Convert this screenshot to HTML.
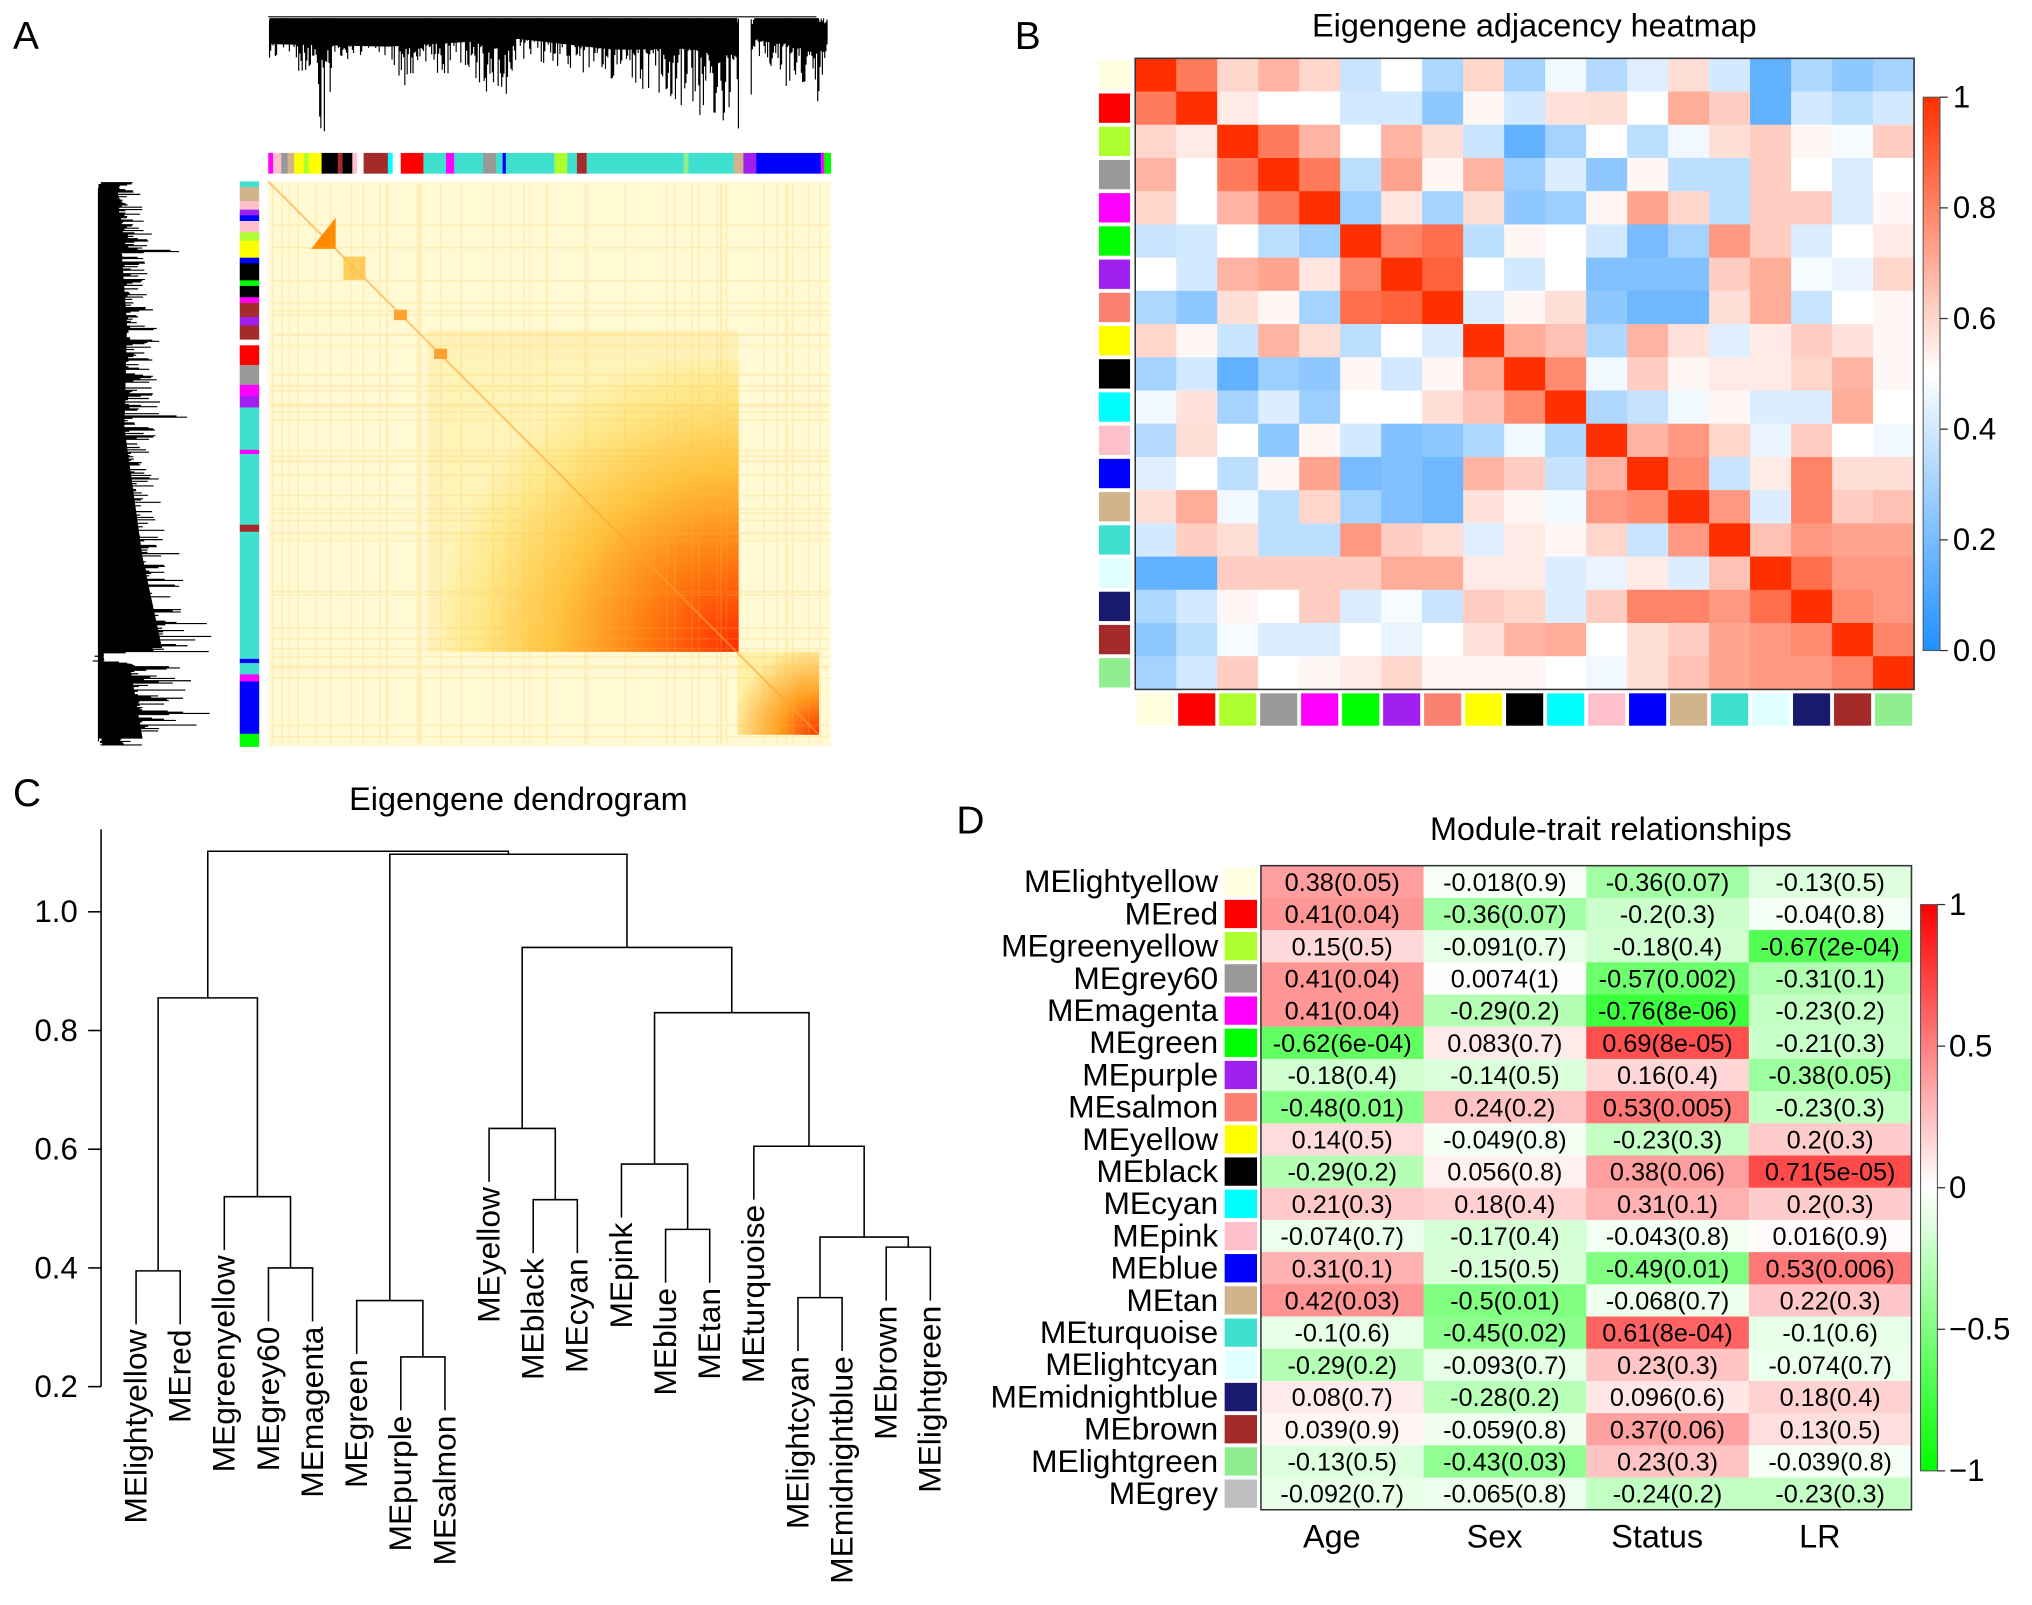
<!DOCTYPE html>
<html><head><meta charset="utf-8">
<style>
html,body{margin:0;padding:0;background:#fff;}
svg{display:block;font-family:"Liberation Sans",Arial,sans-serif;}
</style></head>
<body>
<svg id="fig" width="2032" height="1605" viewBox="0 0 1568 1238.5" xmlns="http://www.w3.org/2000/svg">
<defs>
<radialGradient id="bigBlock" cx="1" cy="1" r="1.05" fx="1" fy="1">
<stop offset="0" stop-color="#ff2a00"/><stop offset="0.3" stop-color="#ff7a10"/><stop offset="0.6" stop-color="#ffc440"/><stop offset="0.85" stop-color="#ffe88a"/><stop offset="1" stop-color="#fff4b8"/>
</radialGradient>
<radialGradient id="smallBlock" cx="1" cy="1" r="1.1" fx="1" fy="1">
<stop offset="0" stop-color="#ff3000"/><stop offset="0.45" stop-color="#ffa020"/><stop offset="1" stop-color="#fff2a8"/>
</radialGradient>
<linearGradient id="cbB" x1="0" y1="1" x2="0" y2="0">
<stop offset="0" stop-color="rgb(30,144,255)"/><stop offset="0.5" stop-color="#ffffff"/><stop offset="1" stop-color="rgb(255,48,0)"/>
</linearGradient>
<linearGradient id="cbD" x1="0" y1="1" x2="0" y2="0">
<stop offset="0" stop-color="#00ff00"/><stop offset="0.5" stop-color="#ffffff"/><stop offset="1" stop-color="#ff0000"/>
</linearGradient>
</defs>

<text x="10" y="38" font-size="30">A</text>
<text x="783" y="38" font-size="30">B</text>
<text x="10" y="622" font-size="30">C</text>
<text x="738" y="643" font-size="30">D</text>

<g id="panelA">
<rect x="207" y="140" width="434" height="436" fill="#fff9d4"/>
<rect x="330" y="255" width="240" height="248" fill="#ffe585" opacity="0.35"/>
<rect x="343" y="278" width="227" height="225" fill="url(#bigBlock)"/>
<rect x="569" y="503" width="63" height="64" fill="url(#smallBlock)"/>
<line x1="207" y1="140" x2="632" y2="567" stroke="#ffa030" stroke-width="1.5" opacity="0.6"/>
<polygon points="240,192 259,168 259,192" fill="#ff8a00"/>
<rect x="265" y="198" width="17" height="18" fill="#ffc040" opacity="0.8"/>
<rect x="304" y="239" width="10" height="8" fill="#ffa030"/>
<rect x="335" y="269" width="10" height="8" fill="#ffa030"/>
<g id="streaks"></g>
<g id="topDendro"></g>
<g id="leftDendro"></g>
<g id="topBar"></g>
<g id="leftBar"></g>
</g>

<g id="panelB">
<text x="1184" y="28" font-size="25" text-anchor="middle">Eigengene adjacency heatmap</text>
<g id="bCells"></g>
<rect x="876" y="45" width="601" height="487" fill="none" stroke="#333" stroke-width="1.2"/>
<g id="bLeft"></g><g id="bBottom"></g>
<rect x="1484" y="75" width="13" height="427" fill="url(#cbB)" stroke="#555" stroke-width="0.8"/>
<g id="bTicks"></g>
</g>

<g id="panelC">
<text x="400" y="625" font-size="25" text-anchor="middle">Eigengene dendrogram</text>
<line x1="78" y1="640" x2="78" y2="1070" stroke="#000" stroke-width="1.2"/>
<g id="cTicks"></g>
<g id="cTree"></g>
</g>

<g id="panelD">
<text x="1243" y="648" font-size="25" text-anchor="middle">Module-trait relationships</text>
<g id="dCells"></g>
<rect x="973" y="668" width="502" height="497" fill="none" stroke="#333" stroke-width="1.2"/>
<rect x="1482" y="698" width="13" height="437" fill="url(#cbD)" stroke="#555" stroke-width="0.8"/>
<g id="dTicks"></g>
</g>
</svg>

<script>
const NS = "http://www.w3.org/2000/svg";
function mk(tag, attrs, parent, txt){
  const e = document.createElementNS(NS, tag);
  for (const k in attrs) e.setAttribute(k, attrs[k]);
  if (txt !== undefined) e.textContent = txt;
  parent.appendChild(e);
  return e;
}

/* ---------- Panel B data ---------- */
const bModules = ["lightyellow","red","greenyellow","grey60","magenta","green","purple","salmon","yellow","black","cyan","pink","blue","tan","turquoise","lightcyan","midnightblue","brown","lightgreen"];
const bColors = ["#ffffe0","#ff0000","#adff2f","#999999","#ff00ff","#00ff00","#a020f0","#fa8072","#ffff00","#000000","#00ffff","#ffc0cb","#0000ff","#d2b48c","#40e0d0","#e0ffff","#191970","#a52a2a","#90ee90"];
const bAdj = [
[1,.82,.6,.68,.6,.38,.5,.32,.6,.3,.47,.33,.43,.58,.4,.15,.32,.25,.3],
[.82,1,.55,.5,.5,.4,.4,.25,.52,.4,.57,.58,.5,.7,.62,.15,.4,.35,.4],
[.6,.55,1,.82,.68,.5,.68,.58,.38,.15,.3,.5,.35,.47,.58,.62,.52,.48,.62],
[.68,.5,.82,1,.82,.35,.72,.52,.68,.28,.42,.25,.52,.35,.35,.62,.5,.42,.5],
[.6,.5,.68,.82,1,.28,.56,.3,.58,.25,.28,.52,.72,.6,.35,.62,.62,.42,.52],
[.38,.4,.5,.35,.28,1,.8,.85,.35,.52,.5,.4,.2,.3,.75,.62,.42,.5,.55],
[.5,.4,.68,.72,.56,.8,1,.88,.5,.4,.5,.22,.22,.22,.62,.7,.48,.45,.6],
[.32,.25,.58,.52,.3,.85,.88,1,.42,.52,.58,.25,.18,.18,.58,.7,.38,.5,.52],
[.6,.52,.38,.68,.58,.35,.5,.42,1,.7,.65,.32,.68,.57,.43,.55,.62,.57,.52],
[.3,.4,.15,.28,.25,.52,.4,.52,.7,1,.78,.47,.62,.52,.55,.55,.6,.68,.52],
[.47,.57,.3,.42,.28,.5,.5,.58,.65,.78,1,.32,.37,.47,.52,.42,.42,.7,.5],
[.33,.58,.5,.25,.52,.4,.22,.25,.32,.47,.32,1,.68,.75,.6,.45,.62,.5,.47],
[.43,.5,.35,.52,.72,.2,.22,.18,.68,.62,.37,.68,1,.78,.38,.55,.8,.58,.58],
[.58,.7,.47,.35,.6,.3,.22,.18,.57,.52,.47,.75,.78,1,.75,.42,.8,.62,.65],
[.4,.62,.58,.35,.35,.75,.62,.58,.43,.55,.52,.6,.38,.75,1,.65,.75,.72,.72],
[.15,.15,.62,.62,.62,.62,.7,.7,.55,.55,.42,.45,.55,.42,.65,1,.85,.75,.75],
[.32,.4,.52,.5,.62,.42,.48,.38,.62,.6,.42,.62,.8,.8,.75,.85,1,.78,.75],
[.25,.35,.48,.42,.42,.5,.45,.5,.57,.68,.7,.5,.58,.62,.72,.75,.78,1,.8],
[.3,.4,.62,.5,.52,.55,.6,.52,.52,.52,.5,.47,.58,.65,.72,.75,.75,.8,1]
];
const bTickValues = [0,0.2,0.4,0.6,0.8,1];
const bTickLabels = ["0.0","0.2","0.4","0.6","0.8","1"];

/* ---------- Panel C data ---------- */
const cLeaves = ["MElightyellow","MEred","MEgreenyellow","MEgrey60","MEmagenta","MEgreen","MEpurple","MEsalmon","MEyellow","MEblack","MEcyan","MEpink","MEblue","MEtan","MEturquoise","MElightcyan","MEmidnightblue","MEbrown","MElightgreen"];
const cMergeA = ["L0","L3","L2","M0","L6","L5","L9","L8","L12","L11","L15","L17","M10","L14","M9","M7","M5","M3"];
const cMergeB = ["L1","L4","M1","M2","L7","M4","L10","M6","L13","M8","L16","L18","M11","M12","M13","M14","M15","M16"];
const cHeights = [0.395,0.40,0.52,0.855,0.25,0.345,0.515,0.635,0.465,0.575,0.35,0.435,0.452,0.605,0.83,0.94,1.097,1.102];
const cTickValues = [0.2,0.4,0.6,0.8,1.0];
const cTickLabels = ["0.2","0.4","0.6","0.8","1.0"];

/* ---------- Panel D data ---------- */
const dModules = ["MElightyellow","MEred","MEgreenyellow","MEgrey60","MEmagenta","MEgreen","MEpurple","MEsalmon","MEyellow","MEblack","MEcyan","MEpink","MEblue","MEtan","MEturquoise","MElightcyan","MEmidnightblue","MEbrown","MElightgreen","MEgrey"];
const dModuleColors = ["#ffffe0","#ff0000","#adff2f","#999999","#ff00ff","#00ff00","#a020f0","#fa8072","#ffff00","#000000","#00ffff","#ffc0cb","#0000ff","#d2b48c","#40e0d0","#e0ffff","#191970","#a52a2a","#90ee90","#bebebe"];
const dTraits = ["Age","Sex","Status","LR"];
const dAge = [0.38,0.41,0.15,0.41,0.41,-0.62,-0.18,-0.48,0.14,-0.29,0.21,-0.074,0.31,0.42,-0.1,-0.29,0.08,0.039,-0.13,-0.092];
const dAgeP = ["0.05","0.04","0.5","0.04","0.04","6e-04","0.4","0.01","0.5","0.2","0.3","0.7","0.1","0.03","0.6","0.2","0.7","0.9","0.5","0.7"];
const dSex = [-0.018,-0.36,-0.091,0.0074,-0.29,0.083,-0.14,0.24,-0.049,0.056,0.18,-0.17,-0.15,-0.5,-0.45,-0.093,-0.28,-0.059,-0.43,-0.065];
const dSexP = ["0.9","0.07","0.7","1","0.2","0.7","0.5","0.2","0.8","0.8","0.4","0.4","0.5","0.01","0.02","0.7","0.2","0.8","0.03","0.8"];
const dStatus = [-0.36,-0.2,-0.18,-0.57,-0.76,0.69,0.16,0.53,-0.23,0.38,0.31,-0.043,-0.49,-0.068,0.61,0.23,0.096,0.37,0.23,-0.24];
const dStatusP = ["0.07","0.3","0.4","0.002","8e-06","8e-05","0.4","0.005","0.3","0.06","0.1","0.8","0.01","0.7","8e-04","0.3","0.6","0.06","0.3","0.2"];
const dLR = [-0.13,-0.04,-0.67,-0.31,-0.23,-0.21,-0.38,-0.23,0.2,0.71,0.2,0.016,0.53,0.22,-0.1,-0.074,0.18,0.13,-0.039,-0.23];
const dLRP = ["0.5","0.8","2e-04","0.1","0.2","0.3","0.05","0.3","0.3","5e-05","0.3","0.9","0.006","0.3","0.6","0.7","0.4","0.5","0.8","0.3"];
const dTickValues = [1,0.5,0,-0.5,-1];
const dTickLabels = ["1","0.5","0","\u22120.5","\u22121"];

/* ---------- Panel A color bars ---------- */
const aTopColors = ["#ff00ff","#ffc0cb","#999999","#d2b48c","#ffff00","#adff2f","#ffff00","#000000","#a52a2a","#000000","#ffc0cb","#ffffff","#a52a2a","#a52a2a","#00ffff","#ffffff","#ff0000","#40e0d0","#ff00ff","#40e0d0","#999999","#40e0d0","#0000ff","#40e0d0","#adff2f","#40e0d0","#a52a2a","#40e0d0","#90ee90","#40e0d0","#d2b48c","#a020f0","#0000ff","#ff00ff","#00ff00"];
const aTopLens = [3,5,4,4,6,3,8,10,3,6,3,4,12,3,3,5,14,14,5,18,8,4,2,30,8,6,6,60,3,28,6,8,40,2,4];
const aLeftColors = ["#40e0d0","#d2b48c","#ffc0cb","#a020f0","#0000ff","#ffc0cb","#adff2f","#ffff00","#0000ff","#000000","#00ff00","#000000","#ff00ff","#a52a2a","#a020f0","#a52a2a","#ffffff","#ff0000","#999999","#ff00ff","#a020f0","#40e0d0","#ff00ff","#40e0d0","#a52a2a","#40e0d0","#0000ff","#40e0d0","#ff00ff","#0000ff","#00ff00"];
const aLeftLens = [4,10,6,4,4,8,6,12,4,12,4,8,4,10,6,10,4,14,14,8,8,30,3,50,5,90,3,8,5,37,9];

/* ---------- Draw Panel B ---------- */
const bX0 = 876, bY0 = 45, bW = 601, bH = 487;
const bN = bModules.length;
const bCw = bW / bN, bCh = bH / bN;
function bColor(v){
  let r,g,b;
  if (v < 0.5){ const t = v/0.5; r = 30+(255-30)*t; g = 144+(255-144)*t; b = 255; }
  else { const t = (v-0.5)/0.5; r = 255; g = 255+(48-255)*t; b = 255-255*t; }
  return `rgb(${Math.round(r)},${Math.round(g)},${Math.round(b)})`;
}
const bCells = document.getElementById('bCells');
for (let i=0;i<bN;i++){
  for (let j=0;j<bN;j++){
    const c = mk('rect',{x:bX0+j*bCw,y:bY0+i*bCh,width:bCw+0.5,height:bCh+0.5,fill:bColor(bAdj[i][j])},bCells);
    
    
  }
}
const bLeft = document.getElementById('bLeft'), bBottom = document.getElementById('bBottom');
for (let i=0;i<bN;i++){
  const r1 = mk('rect',{x:848,y:bY0+i*bCh+1.5,width:24,height:bCh-3,fill:bColors[i]},bLeft);
  
  
  const r2 = mk('rect',{x:bX0+i*bCw+1.5,y:535,width:bCw-3,height:25,fill:bColors[i]},bBottom);
  
  
}
const bTicks = document.getElementById('bTicks');
function bY(v){ return 502 - v*(502-75); }
bTickValues.forEach((v,k)=>{
  const t = mk('line',{x1:1497,y1:bY(v),x2:1503,y2:bY(v),stroke:'#333','stroke-width':1},bTicks);
  
  
  const l = mk('text',{x:1507,y:bY(v)+8,'font-size':24},bTicks,bTickLabels[k]);
  
  
});

/* ---------- Draw Panel C ---------- */
function cY(h){ return 1070 - (h-0.2)*458; }
function cX(i){ return 105 + i*34.05; }
const cTicks = document.getElementById('cTicks');
cTickValues.forEach((v,k)=>{
  const t = mk('line',{x1:68,y1:cY(v),x2:78,y2:cY(v),stroke:'#000','stroke-width':1.2},cTicks);
  
  
  const l = mk('text',{x:60,y:cY(v)+8,'font-size':24,'text-anchor':'end'},cTicks,cTickLabels[k]);
  
  
});
const cTree = document.getElementById('cTree');
const nodeX = [], nodeH = [];
const leafParentH = new Array(cLeaves.length).fill(0);
cMergeA.forEach((a,k)=>{
  [a,cMergeB[k]].forEach(r=>{ if (r[0]==='L') leafParentH[+r.slice(1)] = cHeights[k]; });
});
const hang = 0.09;
function ref(r){
  const idx = +r.slice(1);
  if (r[0]==='L') return {x:cX(idx), y:cY(leafParentH[idx]-hang)};
  return {x:nodeX[idx], y:cY(nodeH[idx])};
}
cMergeA.forEach((a,k)=>{
  const A = ref(a), B = ref(cMergeB[k]);
  const y = cY(cHeights[k]);
  const p = mk('path',{d:`M${A.x},${A.y}V${y}H${B.x}V${B.y}`,fill:'none',stroke:'#000','stroke-width':1.2},cTree);
  
  
  nodeX[k] = (A.x+B.x)/2; nodeH[k] = cHeights[k];
});
cLeaves.forEach((n,i)=>{
  const x = cX(i), y = cY(leafParentH[i]-hang)+4;
  const t = mk('text',{x:x+8,y:y,'font-size':24.5,'text-anchor':'end',transform:`rotate(-90 ${x+8} ${y})`},cTree,n);
  
  
});

/* ---------- Draw Panel D ---------- */
const dX0 = 973, dY0 = 668, dW = 502, dH = 497;
const dRowH = dH / dModules.length, dColW = dW / dTraits.length;
const dVals = [dAge,dSex,dStatus,dLR], dPs = [dAgeP,dSexP,dStatusP,dLRP];
function dColor(v){
  let r,g,b;
  if (v >= 0){ r = 255; g = 255*(1-v); b = 255*(1-v); }
  else { const t = -v; r = 255*(1-t); g = 255; b = 255*(1-t); }
  return `rgb(${Math.round(r)},${Math.round(g)},${Math.round(b)})`;
}
const dCells = document.getElementById('dCells');
dModules.forEach((m,i)=>{
  const y = dY0 + i*dRowH;
  dTraits.forEach((tr,j)=>{
    const v = dVals[j][i];
    const c = mk('rect',{x:dX0+j*dColW,y:y,width:dColW+0.5,height:dRowH+0.5,fill:dColor(v)},dCells);
    
    
    const t = mk('text',{x:dX0+(j+0.5)*dColW,y:y+dRowH/2+7,'font-size':19.5,'text-anchor':'middle'},dCells,`${v}(${dPs[j][i]})`);
    
    
  });
  const s = mk('rect',{x:945,y:y+1.5,width:25,height:dRowH-3,fill:dModuleColors[i]},dCells);
  
  
  const l = mk('text',{x:940,y:y+dRowH/2+8,'font-size':24.5,'text-anchor':'end'},dCells,m);
  
  
});
dTraits.forEach((tr,j)=>{
  const t = mk('text',{x:dX0+(j+0.5)*dColW-8,y:1194,'font-size':25,'text-anchor':'middle'},dCells,tr);
  
  
});
const dTicks = document.getElementById('dTicks');
function dY(v){ return 916.5 - v*(1135-698)/2; }
dTickValues.forEach((v,k)=>{
  const t = mk('line',{x1:1495,y1:dY(v),x2:1501,y2:dY(v),stroke:'#333','stroke-width':1},dTicks);
  
  
  const l = mk('text',{x:1504,y:dY(v)+8,'font-size':24},dTicks,dTickLabels[k]);
  
  
});

/* ---------- Panel A color bars ---------- */
function drawBar(g, colors, lens, horiz, start, span, a0, thick){
  const tot = lens.reduce((s,v)=>s+v,0);
  let pos = start;
  colors.forEach((c,k)=>{
    const L = lens[k]/tot*span;
    const r = horiz ? mk('rect',{x:pos,y:a0,width:L+0.3,height:thick,fill:c},g)
                    : mk('rect',{x:a0,y:pos,width:thick,height:L+0.3,fill:c},g);
    
    
    pos += L;
  });
}
drawBar(document.getElementById('topBar'), aTopColors, aTopLens, true, 207, 434, 118, 16);
drawBar(document.getElementById('leftBar'), aLeftColors, aLeftLens, false, 140, 436, 185, 15);

/* ---------- Panel A dendrogram texture (decorative) ---------- */
function h(n){ const s = Math.sin(n*12.9898)*43758.5453; return s - Math.floor(s); }
function envAt(env,x){
  for (let k=0;k<env.length-1;k++){
    if (x>=env[k][0] && x<=env[k+1][0]){ const t=(x-env[k][0])/(env[k+1][0]-env[k][0]); return env[k][1]+t*(env[k+1][1]-env[k][1]); }
  }
  return env[env.length-1][1];
}
const topD = document.getElementById('topDendro');
const topEnv = [[207,45],[240,60],[250,112],[258,50],[300,45],[320,90],[330,45],[340,75],[350,45],[390,90],[400,45],[440,55],[470,60],[520,80],[560,100],[570,106],[571,300],[579,300],[580,40],[610,70],[630,100],[640,60]];
let dTop = 'M207,13H630';
for (let x=208; x<=639; x+=0.9){
  const e = envAt(topEnv,x);
  if (e>150) continue;
  const bottom = 22 + (e-22)*(0.25+0.75*Math.pow(h(x),2));
  const top = 14 + 5*h(x+3);
  dTop += `M${x.toFixed(1)},${top.toFixed(1)}V${bottom.toFixed(1)}`;
}
mk('path',{d:dTop,stroke:'#000','stroke-width':0.9,fill:'none'},topD);
mk('path',{d:'M208,14H569V30Q520,40 470,38L400,30L300,36L208,34Z',fill:'#000'},topD);
mk('path',{d:'M582,14H632V22L600,34L582,30Z',fill:'#000'},topD);

const leftD = document.getElementById('leftDendro');
const leftEnv = [[140,110],[190,120],[193,180],[196,110],[260,130],[262,155],[264,120],[320,125],[322,160],[324,120],[400,125],[440,145],[480,160],[503,170],[504,70],[510,70],[512,140],[560,170],[566,110],[575,120]];
let dLeft = 'M76,145V572';
for (let y=141; y<=575; y+=0.9){
  const e = envAt(leftEnv,y);
  const right = 84 + (e-84)*(0.25+0.75*Math.pow(h(y),2));
  dLeft += `M${(76+3*h(y+7)).toFixed(1)},${y.toFixed(1)}H${right.toFixed(1)}`;
}
mk('path',{d:dLeft,stroke:'#000','stroke-width':0.9,fill:'none'},leftD);
mk('path',{d:'M76,142H90L98,250L96,330L110,430L125,500H80L80,512H100L110,570H76Z',fill:'#000'},leftD);

const streaks = document.getElementById('streaks');
let sd = '';
for (let k=0;k<40;k++){
  const x = 210 + h(k+100)*425;
  sd += `M${x.toFixed(1)},142V574`;
  const y = 142 + h(k+200)*430;
  sd += `M209,${y.toFixed(1)}H640`;
}
mk('path',{d:sd,stroke:'#ffc040',opacity:0.2,'stroke-width':1.2,fill:'none'},streaks);
</script>
</body></html>
